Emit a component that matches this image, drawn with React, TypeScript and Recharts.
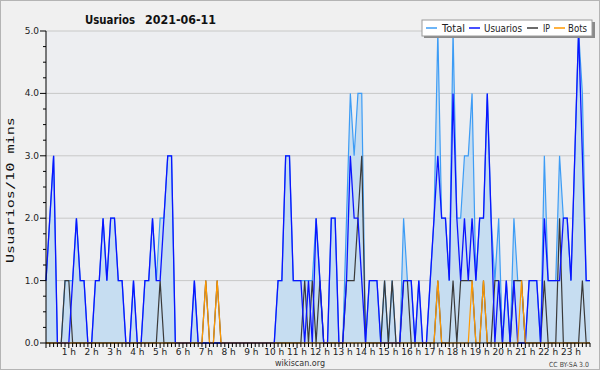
import React from 'react';
import { ComposedChart, Area, Line, XAxis, YAxis, CartesianGrid } from 'recharts';

// 10-minute slots, 00:00 .. 23:50 (144 values)
const usuarios = [
  1, 2, 3, 0, 0, 0, 0, 1, 2, 1, 1, 0, 0, 1, 1, 2, 1, 2, 2, 1,
  1, 0, 0, 1, 0, 0, 1, 1, 2, 1, 1, 2, 3, 3, 0, 0, 0, 0, 0, 1,
  0, 0, 0, 0, 0, 0, 0, 0, 0, 0, 0, 0, 0, 0, 0, 0, 0, 0, 0, 0,
  0, 1, 1, 3, 3, 1, 1, 1, 0, 1, 0, 2, 1, 0, 0, 2, 2, 0, 0, 1,
  3, 2, 2, 1, 0, 1, 1, 1, 0, 0, 0, 0, 0, 0, 1, 1, 1, 0, 1, 0,
  0, 1, 2, 3, 2, 2, 1, 4, 2, 1, 2, 1, 2, 1, 2, 2, 4, 2, 0, 1,
  0, 1, 0, 1, 0, 0, 0, 1, 1, 1, 0, 2, 1, 1, 1, 1, 2, 2, 1, 3,
  5, 3, 1, 1,
];

const ip = [
  0, 0, 0, 0, 0, 1, 1, 0, 0, 0, 0, 0, 0, 0, 0, 0, 0, 0, 0, 0,
  0, 0, 0, 0, 0, 0, 0, 0, 0, 0, 1, 0, 0, 0, 0, 0, 0, 0, 0, 0,
  0, 0, 1, 0, 0, 1, 0, 0, 0, 0, 0, 0, 0, 0, 0, 0, 0, 0, 0, 0,
  0, 0, 0, 0, 0, 0, 0, 0, 1, 0, 1, 0, 1, 0, 0, 0, 0, 0, 0, 1,
  1, 1, 2, 3, 0, 0, 0, 0, 0, 1, 0, 1, 0, 0, 1, 1, 0, 0, 0, 0,
  0, 0, 0, 1, 0, 0, 0, 1, 0, 1, 1, 1, 1, 0, 0, 1, 0, 0, 1, 1,
  0, 0, 0, 1, 1, 1, 0, 0, 0, 0, 0, 1, 0, 0, 0, 2, 0, 0, 0, 0,
  0, 1, 0, 0,
];

const bots = [
  0, 0, 0, 0, 0, 0, 0, 0, 0, 0, 0, 0, 0, 0, 0, 0, 0, 0, 0, 0,
  0, 0, 0, 0, 0, 0, 0, 0, 0, 0, 0, 0, 0, 0, 0, 0, 0, 0, 0, 0,
  0, 0, 1, 0, 0, 1, 0, 0, 0, 0, 0, 0, 0, 0, 0, 0, 0, 0, 0, 0,
  0, 0, 0, 0, 0, 0, 0, 0, 0, 0, 0, 0, 0, 0, 0, 0, 0, 0, 0, 0,
  0, 0, 0, 0, 0, 0, 0, 0, 0, 0, 0, 0, 0, 0, 0, 0, 0, 0, 0, 0,
  0, 0, 0, 1, 0, 0, 0, 0, 0, 0, 0, 0, 1, 0, 0, 1, 0, 0, 0, 0,
  0, 0, 0, 0, 0, 1, 0, 0, 0, 0, 0, 0, 0, 0, 0, 0, 0, 0, 0, 0,
  0, 0, 0, 0,
];

const total = [
  1, 2, 3, 0, 0, 1, 1, 1, 2, 1, 1, 0, 0, 1, 1, 2, 1, 2, 2, 1,
  1, 0, 0, 1, 0, 0, 1, 1, 2, 1, 2, 2, 3, 3, 0, 0, 0, 0, 0, 1,
  0, 0, 0, 0, 0, 0, 0, 0, 0, 0, 0, 0, 0, 0, 0, 0, 0, 0, 0, 0,
  0, 1, 1, 3, 3, 1, 1, 1, 1, 1, 1, 2, 1, 0, 0, 2, 2, 0, 0, 2,
  4, 3, 4, 4, 0, 1, 1, 1, 0, 1, 0, 1, 0, 0, 2, 1, 1, 0, 1, 0,
  0, 1, 2, 5, 2, 2, 1, 5, 2, 2, 3, 3, 4, 1, 2, 2, 4, 2, 1, 2,
  0, 1, 0, 2, 1, 1, 0, 1, 1, 1, 0, 3, 1, 1, 1, 3, 2, 2, 1, 3,
  5, 4, 1, 1,
];

const hourLabels = [
  '1 h', '2 h', '3 h', '4 h', '5 h', '6 h', '7 h', '8 h', '9 h', '10 h', '11 h', '12 h',
  '13 h', '14 h', '15 h', '16 h', '17 h', '18 h', '19 h', '20 h', '21 h', '22 h', '23 h',
];

const yLabels = ['0.0', '1.0', '2.0', '3.0', '4.0', '5.0'];
const seriesNames = ['Total', 'Usuarios', 'IP', 'Bots'];

const C_TOTAL = '#3d9cf5';
const C_FILL = '#c6ddf1';
const C_USU = '#0a14ff';
const C_IP = '#3a3a3a';
const C_BOTS = '#ff9900';

const data = usuarios.map((u, i) => ({
  i,
  total: total[i],
  usuarios: u,
  ip: ip[i],
  bots: bots[i],
}));

const xTicks = data.map((d) => d.i);
const yTicks: number[] = [];
for (let k = 0; k <= 20; k++) yTicks.push(k / 4);

const XTick = (props: any) => {
  const { x, y, payload } = props;
  const v = payload.value as number;
  const major = v % 6 === 0;
  const lab = major && v > 0 ? hourLabels[v / 6 - 1] : null;
  return (
    <g>
      <line x1={x} x2={x} y1={y} y2={y + (major ? 5 : 4)} stroke="#000" strokeWidth={1} />
      {lab && (
        <text x={x} y={y + 12} textAnchor="middle" fontFamily="DejaVu Sans" fontSize={9} fill="#222">
          {lab}
        </text>
      )}
    </g>
  );
};

const YTick = (props: any) => {
  const { x, y, payload } = props;
  const v = payload.value as number;
  const major = Number.isInteger(v);
  return (
    <g>
      <line x1={x - (major ? 6 : 3)} x2={x} y1={y} y2={y} stroke="#000" strokeWidth={1} />
      {major && (
        <text x={x - 7} y={y + 3} textAnchor="end" fontFamily="DejaVu Sans" fontSize={9} fill="#222">
          {yLabels[v]}
        </text>
      )}
    </g>
  );
};

const legendColors = [C_TOTAL, C_USU, C_IP, C_BOTS];
const legendLineX = [426, 469, 527, 554];
const legendTextX = [442, 484, 543, 568];
const legendTextW = [23, 38, 7, 19];

export default function App() {
  return (
    <div style={{ position: 'absolute', left: 0, top: 0, width: 600, height: 370, background: '#f0f0f0' }}>
      <ComposedChart
        width={600}
        height={370}
        data={data}
        margin={{ top: 31, right: 10, bottom: 0, left: 0 }}
      >
        <CartesianGrid
          fill="#edeef1"
          vertical={false}
          horizontalValues={[1, 2, 3, 4, 5]}
          stroke="#c8c8c8"
          strokeDasharray=""
        />
        <XAxis
          dataKey="i"
          type="number"
          domain={[0, 143]}
          ticks={xTicks}
          interval={0}
          height={27}
          tickSize={0}
          tickMargin={0}
          tickLine={false}
          tick={<XTick />}
          axisLine={{ stroke: '#000' }}
          allowDecimals={false}
        />
        <YAxis
          type="number"
          domain={[0, 5]}
          ticks={yTicks}
          interval={0}
          width={46}
          tickSize={0}
          tickMargin={0}
          tickLine={false}
          tick={<YTick />}
          axisLine={{ stroke: '#000' }}
        />
        <Area
          type="linear"
          dataKey="total"
          stroke={C_TOTAL}
          strokeWidth={1.2}
          fill={C_FILL}
          fillOpacity={1}
          isAnimationActive={false}
          dot={false}
        />
        <Line type="linear" dataKey="ip" stroke={C_IP} strokeWidth={1.2} dot={false} isAnimationActive={false} />
        <Line type="linear" dataKey="usuarios" stroke={C_USU} strokeWidth={1.3} dot={false} isAnimationActive={false} />
        <Line type="linear" dataKey="bots" stroke={C_BOTS} strokeWidth={1.2} dot={false} isAnimationActive={false} />
      </ComposedChart>
      <svg
        width={600}
        height={370}
        style={{ position: 'absolute', left: 0, top: 0, pointerEvents: 'none' }}
      >
        <rect x={0.5} y={0.5} width={599} height={369} fill="none" stroke="#b4b4b4" />
        <text x={85} y={23.5} fontFamily="DejaVu Sans" fontWeight="bold" fontSize={13} fill="#111"
          textLength={50} lengthAdjust="spacingAndGlyphs">Usuarios</text>
        <text x={145} y={23.5} fontFamily="DejaVu Sans" fontWeight="bold" fontSize={13} fill="#111"
          textLength={71} lengthAdjust="spacingAndGlyphs">2021-06-11</text>
        <text
          x={0}
          y={0}
          transform="translate(14,190) rotate(-90)"
          textAnchor="middle"
          fontFamily="DejaVu Sans Mono"
          fontSize={11}
          fill="#111"
          textLength={146}
          lengthAdjust="spacingAndGlyphs"
        >
          Usuarios/10 mins
        </text>
        <rect x={424} y={22} width={171} height={16} fill="#8a8a8a" />
        <rect x={422} y={20} width={170} height={16} fill="#ffffff" stroke="#9a9a9a" />
        {seriesNames.map((n, k) => (
          <g key={n}>
            <line x1={legendLineX[k]} x2={legendLineX[k] + 11} y1={28} y2={28} stroke={legendColors[k]} strokeWidth={1.5} />
            <text x={legendTextX[k]} y={31.5} fontFamily="DejaVu Sans" fontSize={10.5} fill="#222"
              textLength={legendTextW[k]} lengthAdjust="spacingAndGlyphs">{n}</text>
          </g>
        ))}
        <text x={300} y={366} textAnchor="middle" fontFamily="DejaVu Sans" fontSize={9.5} fill="#333"
          textLength={50} lengthAdjust="spacingAndGlyphs">wikiscan.org</text>
        <text x={589} y={367} textAnchor="end" fontFamily="DejaVu Sans" fontSize={7} fill="#444"
          textLength={40} lengthAdjust="spacingAndGlyphs">CC BY-SA 3.0</text>
      </svg>
    </div>
  );
}
